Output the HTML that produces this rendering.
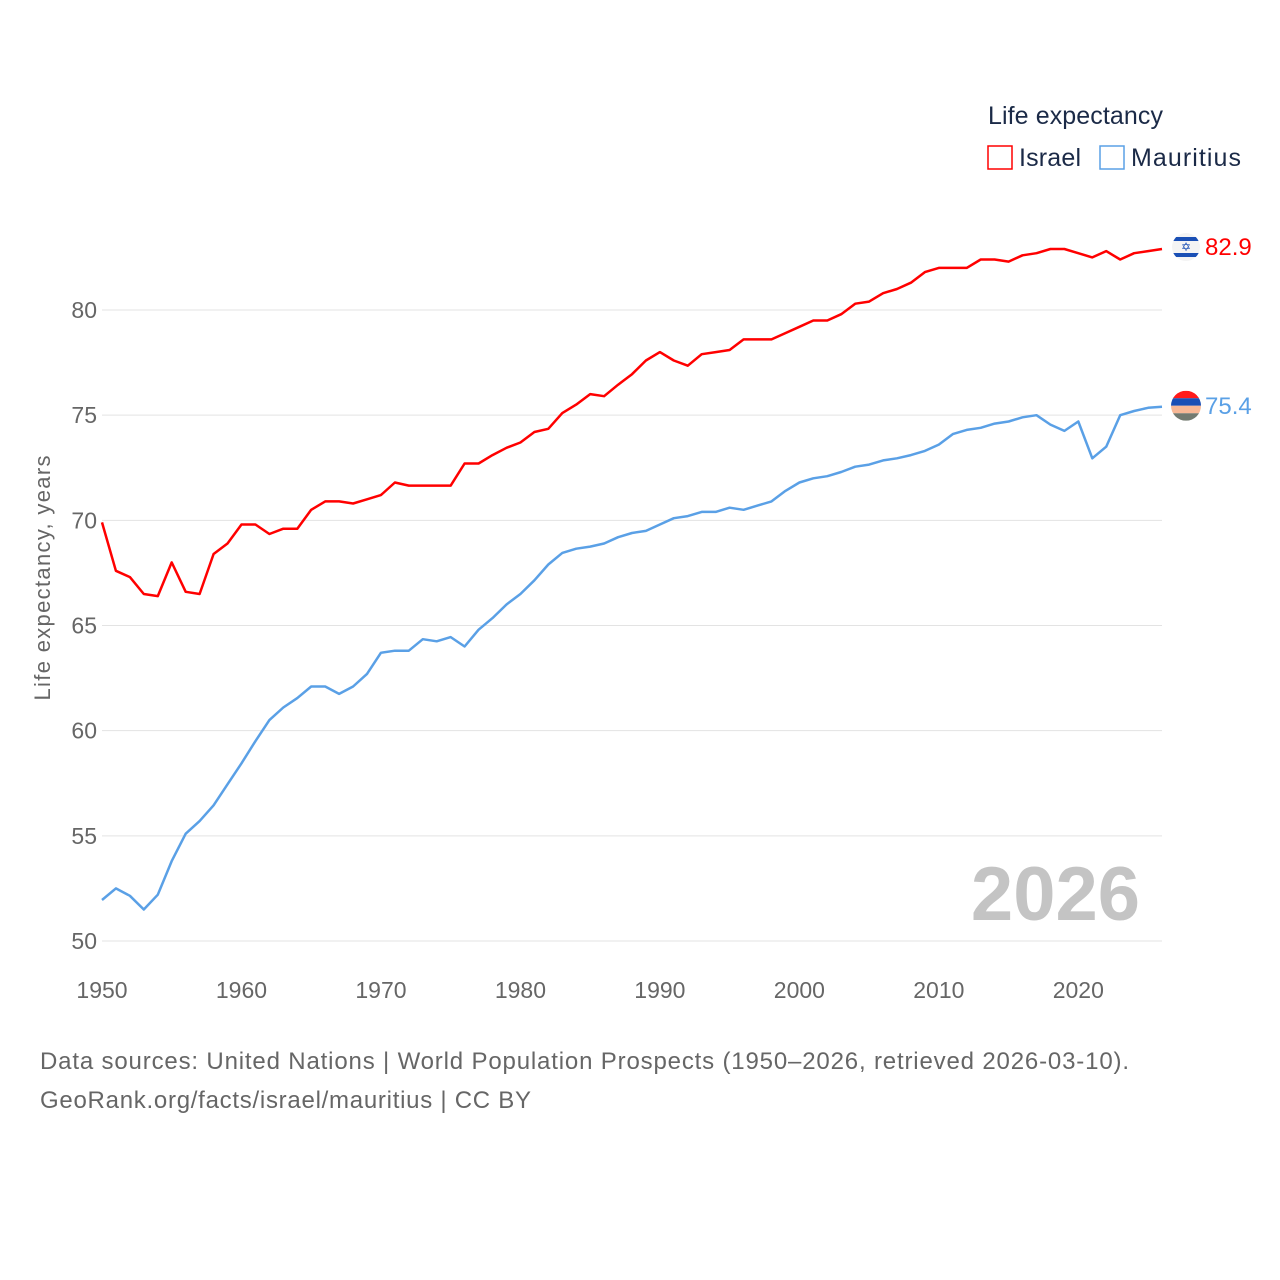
<!DOCTYPE html>
<html><head><meta charset="utf-8"><style>
body{margin:0;background:#fff;font-family:"Liberation Sans",sans-serif}
svg{display:block}
</style></head><body>
<svg id="chart" width="1280" height="1280">
<rect width="1280" height="1280" fill="#fff"/>
<g id="grid"></g>
<g id="yt"></g>
<g id="xt"></g>
<text x="50" y="578" transform="rotate(-90 50 578)" text-anchor="middle" font-size="22" fill="#666" textLength="245">Life expectancy, years</text>
<text x="1140" y="920" text-anchor="end" font-size="76" font-weight="bold" fill="#c4c4c4">2026</text>
<g id="lines"></g>
<g>
<text x="988" y="124" font-size="25" fill="#1b2a47" textLength="175">Life expectancy</text>
<g><rect x="988" y="146" width="24" height="23" fill="none" stroke="#ff0000" stroke-width="1.5"/><text x="1019" y="166" font-size="25" fill="#1b2a47" textLength="62">Israel</text></g>
<g><rect x="1100" y="146" width="24" height="23" fill="none" stroke="#5aa0e6" stroke-width="1.5"/><text x="1131" y="166" font-size="25" fill="#1b2a47" textLength="110">Mauritius</text></g>
</g>
<g id="ends"></g>
<text x="40" y="1069" font-size="24" fill="#666" textLength="1089">Data sources: United Nations | World Population Prospects (1950–2026, retrieved 2026-03-10).</text>
<text x="40" y="1108" font-size="24" fill="#666" textLength="491">GeoRank.org/facts/israel/mauritius | CC BY</text>
</svg>
<script>
const years=[];for(let y=1950;y<=2026;y++)years.push(y);
const israel=[69.9,67.6,67.3,66.5,66.4,68.0,66.6,66.5,68.4,68.9,69.8,69.8,69.35,69.6,69.6,70.5,70.9,70.9,70.8,71.0,71.2,71.8,71.65,71.65,71.65,71.65,72.7,72.7,73.1,73.45,73.7,74.2,74.35,75.1,75.5,76.0,75.9,76.45,76.95,77.6,78.0,77.6,77.35,77.9,78.0,78.1,78.6,78.6,78.6,78.9,79.2,79.5,79.5,79.8,80.3,80.4,80.8,81.0,81.3,81.8,82.0,82.0,82.0,82.4,82.4,82.3,82.6,82.7,82.9,82.9,82.7,82.5,82.8,82.4,82.7,82.8,82.9];
const mauritius=[51.95,52.5,52.15,51.5,52.2,53.8,55.1,55.7,56.45,57.45,58.45,59.5,60.5,61.1,61.55,62.1,62.1,61.75,62.1,62.7,63.7,63.8,63.8,64.35,64.25,64.45,64.0,64.8,65.35,66.0,66.5,67.15,67.9,68.45,68.65,68.75,68.9,69.2,69.4,69.5,69.8,70.1,70.2,70.4,70.4,70.6,70.5,70.7,70.9,71.4,71.8,72.0,72.1,72.3,72.55,72.65,72.85,72.95,73.1,73.3,73.6,74.1,74.3,74.4,74.6,74.7,74.9,75.0,74.55,74.25,74.7,72.95,73.5,75.0,75.2,75.35,75.4];
const yTicks=[50,55,60,65,70,75,80];
const xTicks=[1950,1960,1970,1980,1990,2000,2010,2020];
const NS="http://www.w3.org/2000/svg";
const X=v=>102+(v-1950)*(1162-102)/76;
const Y=v=>941-(v-50)*(941-310)/30;
function mk(tag,attrs,parent,text){const e=document.createElementNS(NS,tag);for(const k in attrs)e.setAttribute(k,attrs[k]);if(text!=null)e.textContent=text;document.getElementById(parent).appendChild(e);return e;}
yTicks.forEach(t=>{
 const l=mk('line',{x1:102,x2:1162,y1:Y(t),y2:Y(t),stroke:'#e3e3e3','stroke-width':1},'grid');
 
 
 const tx=mk('text',{x:97,y:Y(t)+8,'text-anchor':'end','font-size':23,fill:'#666'},'yt',t);
 
 
});
xTicks.forEach(t=>{
 const tx=mk('text',{x:X(t),y:998,'text-anchor':'middle','font-size':23,fill:'#666'},'xt',t);
 
 
});
function line(data,color,name){
 const d=data.map((v,i)=>(i?'L':'M')+X(years[i]).toFixed(1)+','+Y(v).toFixed(1)).join('');
 const p=mk('path',{d:d,fill:'none',stroke:color,'stroke-width':2.5,'stroke-linejoin':'round'},'lines');
 
 
}
line(israel,'#ff0000','line-israel');
line(mauritius,'#5aa0e6','line-mauritius');
const li=israel[israel.length-1],lm=mauritius[mauritius.length-1];
const yi=Y(li)-2, ym=Y(lm)-1;
const fi=mk('g',{},'ends');


fi.innerHTML=`<clipPath id="ci"><circle cx="1186" cy="${yi}" r="14"/></clipPath><g clip-path="url(#ci)"><rect x="1172" y="${yi-14}" width="28" height="28" fill="#f4f4f4"/><rect x="1172" y="${yi-10}" width="28" height="4" fill="#1a4fb5"/><rect x="1172" y="${yi+6}" width="28" height="4" fill="#1a4fb5"/></g><text x="1186" y="${yi+4}" text-anchor="middle" font-size="12" fill="#1a4fb5">✡</text>`;
const fm=mk('g',{},'ends');


fm.innerHTML=`<clipPath id="cm"><circle cx="1186" cy="${ym}" r="15"/></clipPath><g clip-path="url(#cm)"><rect x="1171" y="${ym-15}" width="30" height="7.5" fill="#ff1a1a"/><rect x="1171" y="${ym-7.5}" width="30" height="7.5" fill="#1a4fb5"/><rect x="1171" y="${ym}" width="30" height="7.5" fill="#f8b896"/><rect x="1171" y="${ym+7.5}" width="30" height="7.5" fill="#737a70"/></g>`;
const t1=mk('text',{x:1205,y:Y(li)+6,'font-size':24,fill:'#ff0000'},'ends',li.toFixed(1));


const t2=mk('text',{x:1205,y:Y(lm)+7,'font-size':24,fill:'#5aa0e6'},'ends',lm.toFixed(1));


</script>
</body></html>
